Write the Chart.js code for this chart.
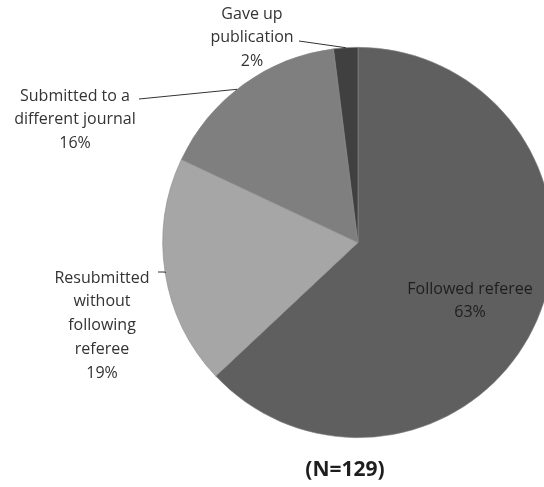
<!DOCTYPE html>
<html lang="en">
<head>
<meta charset="utf-8">
<style>
  html, body { margin: 0; padding: 0; background: #fff; overflow: hidden; }
  #wrap { width: 716px; height: 487px; }
</style>
</head>
<body>
<div id="wrap">
    <canvas id="myChart" width="716" height="487"></canvas>
</div>

<script src="https://cdn.jsdelivr.net/npm/chart.js"></script>
<script>
    // slices, clockwise from 12 o'clock
    const labels = [
        ['Followed referee'],
        ['Resubmitted', 'without', 'following', 'referee'],
        ['Submitted to a', 'different journal'],
        ['Gave up', 'publication']
    ];
    const shares = [63, 19, 16, 2];
    const colors = ['#5f5f5f', '#a6a6a6', '#7f7f7f', '#404040'];
    const note = '(N=129)';

    // where each label block sits (x centre, y of first line) and leader start
    const labelPos = [
        { x: 470, y: 289, lead: null, inside: true },
        { x: 102, y: 278, lead: [158, 272] },
        { x: 75, y: 96, lead: [139, 99] },
        { x: 252, y: 14, lead: [299, 41] }
    ];

    const sliceLabels = {
        id: 'sliceLabels',
        afterDraw(chart) {
            const c = chart.ctx;
            const arcs = chart.getDatasetMeta(0).data;
            c.save();
            c.font = '16px "Open Sans", Lato, sans-serif';
            c.textAlign = 'center';
            c.textBaseline = 'middle';
            labels.forEach((lines, i) => {
                const p = labelPos[i];
                const all = lines.concat([shares[i] + '%']);
                c.fillStyle = p.inside ? '#1e1e1e' : '#333333';
                all.forEach((t, k) => c.fillText(t, p.x, p.y + k * 23.8));
                if (p.lead) {
                    const a = arcs[i];
                    const mid = (a.startAngle + a.endAngle) / 2 - (i === 2 ? 0.04 : 0);
                    const ex = a.x + Math.cos(mid) * a.outerRadius;
                    const ey = a.y + Math.sin(mid) * a.outerRadius;
                    c.strokeStyle = '#333333';
                    c.lineWidth = 1;
                    c.beginPath();
                    c.moveTo(p.lead[0], p.lead[1]);
                    if (i === 1) {
                        c.lineTo(ex, p.lead[1]);
                    }
                    c.lineTo(ex, ey);
                    c.stroke();
                }
            });
            c.font = 'bold 21px "Open Sans", Lato, sans-serif';
            c.fillStyle = '#1e1e1e';
            c.fillText(note, 345, 470);
            c.restore();
        }
    };

    const ctx = document.getElementById('myChart');

    new Chart(ctx, {
        type: 'pie',
        data: {
            labels: labels.map(l => l.join(' ')),
            datasets: [{
                data: shares,
                backgroundColor: colors,
                borderColor: '#8a8a8a',
                borderWidth: 0.6
            }]
        },
        options: {
            responsive: false,
            animation: false,
            layout: { padding: { top: 47, bottom: 49, left: 0, right: 0 } },
            plugins: {
                legend: { display: false },
                tooltip: { enabled: false }
            }
        },
        plugins: [sliceLabels]
    });
</script>
</body>
</html>
